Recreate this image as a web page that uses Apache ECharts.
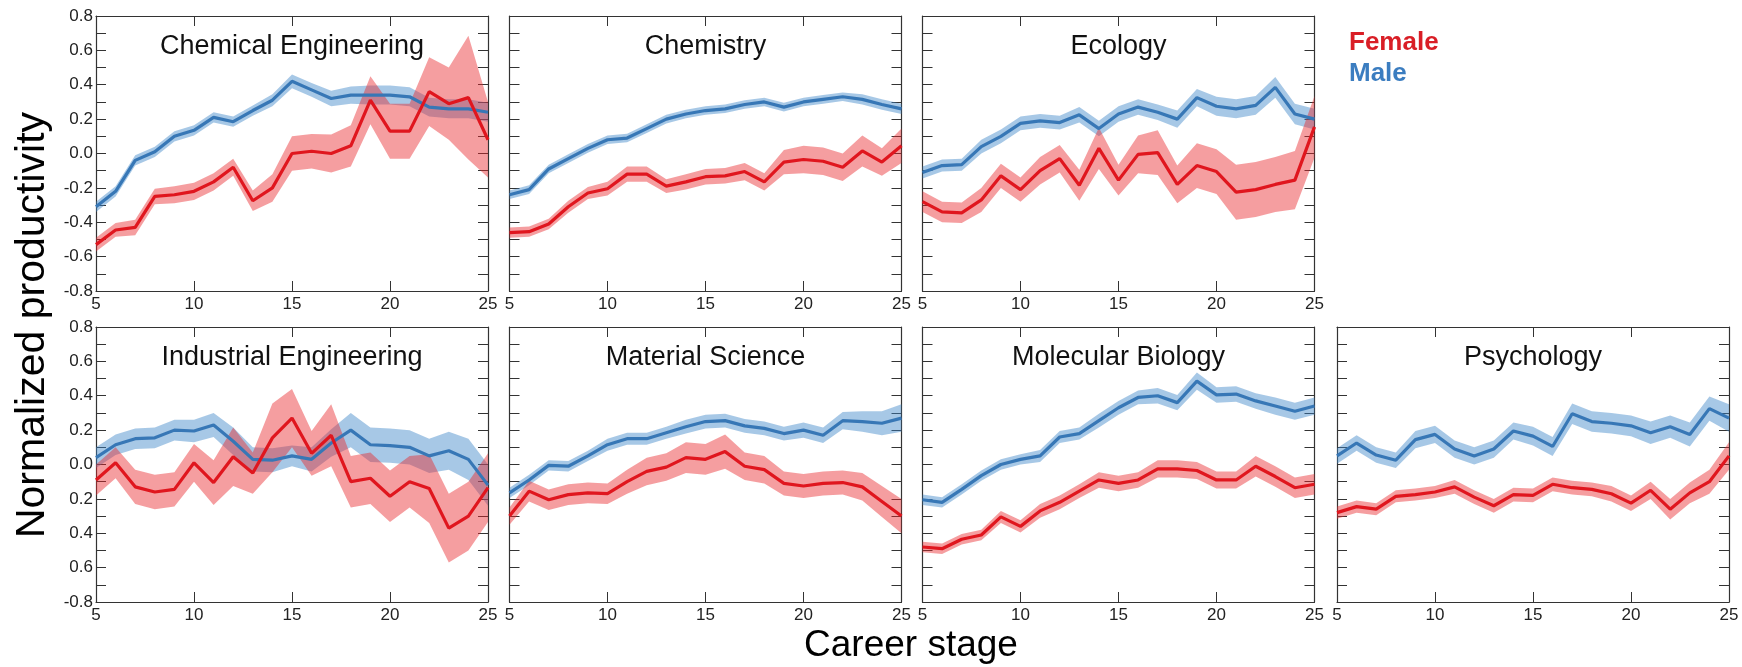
<!DOCTYPE html>
<html>
<head>
<meta charset="utf-8">
<script src="https://cdn.jsdelivr.net/npm/echarts@6/dist/echarts.min.js"></script>
<style>
html,body{margin:0;padding:0;background:#fff;}
#chart{width:1742px;height:667px;}
</style>
</head>
<body>
<div id="chart"></div>
<script>
// ---------- data ----------
const years = [5,6,7,8,9,10,11,12,13,14,15,16,17,18,19,20,21,22,23,24,25];
const disciplines = ['Chemical Engineering','Chemistry','Ecology','Industrial Engineering','Material Science','Molecular Biology','Psychology'];
const yTicks = [-0.8,-0.6,-0.4,-0.2,0.0,0.2,0.4,0.6,0.8];
const xTicks = [5,10,15,20,25];
const legendNames = ['Female','Male'];

const chemEngFemale    = [-0.53,-0.445,-0.43,-0.25,-0.24,-0.22,-0.165,-0.08,-0.275,-0.2,0.0,0.013,0.0,0.045,0.31,0.13,0.13,0.36,0.29,0.325,0.08];
const chemEngFemaleErr = [0.04,0.04,0.045,0.045,0.05,0.05,0.05,0.05,0.06,0.08,0.1,0.1,0.11,0.12,0.14,0.16,0.16,0.2,0.21,0.36,0.22];
const chemEngMale      = [-0.31,-0.22,-0.04,0.01,0.10,0.135,0.21,0.185,0.25,0.31,0.42,0.37,0.32,0.34,0.34,0.34,0.33,0.27,0.26,0.26,0.24];
const chemEngMaleErr   = [0.03,0.03,0.03,0.03,0.03,0.03,0.03,0.03,0.03,0.035,0.04,0.04,0.045,0.05,0.055,0.055,0.055,0.055,0.055,0.055,0.055];

const chemFemale    = [-0.46,-0.455,-0.41,-0.31,-0.23,-0.205,-0.12,-0.12,-0.19,-0.165,-0.135,-0.13,-0.105,-0.165,-0.05,-0.035,-0.045,-0.08,0.015,-0.05,0.045];
const chemFemaleErr = [0.03,0.03,0.03,0.035,0.035,0.04,0.045,0.045,0.04,0.045,0.045,0.045,0.05,0.05,0.07,0.08,0.08,0.08,0.09,0.08,0.1];
const chemMale      = [-0.24,-0.21,-0.09,-0.03,0.03,0.08,0.09,0.145,0.2,0.23,0.25,0.26,0.285,0.30,0.27,0.30,0.315,0.33,0.315,0.285,0.26];
const chemMaleErr   = [0.025,0.025,0.025,0.025,0.025,0.025,0.025,0.025,0.025,0.025,0.025,0.025,0.025,0.025,0.025,0.025,0.025,0.025,0.03,0.03,0.03];

const ecoFemale    = [-0.28,-0.34,-0.345,-0.27,-0.13,-0.21,-0.1,-0.03,-0.185,0.03,-0.155,-0.005,0.005,-0.18,-0.07,-0.105,-0.225,-0.21,-0.18,-0.155,0.155];
const ecoFemaleErr = [0.06,0.06,0.06,0.07,0.07,0.07,0.08,0.08,0.09,0.12,0.09,0.11,0.13,0.11,0.13,0.13,0.16,0.16,0.16,0.17,0.18];
const ecoMale      = [-0.11,-0.07,-0.065,0.04,0.10,0.175,0.19,0.18,0.225,0.145,0.23,0.27,0.24,0.20,0.325,0.275,0.26,0.28,0.385,0.23,0.20];
const ecoMaleErr   = [0.035,0.035,0.035,0.04,0.04,0.04,0.04,0.04,0.045,0.045,0.045,0.045,0.045,0.05,0.05,0.055,0.055,0.055,0.06,0.06,0.06];

const indFemale    = [-0.09,0.01,-0.13,-0.16,-0.145,0.01,-0.105,0.045,-0.05,0.155,0.27,0.065,0.17,-0.1,-0.08,-0.185,-0.1,-0.14,-0.37,-0.3,-0.135];
const indFemaleErr = [0.09,0.09,0.1,0.1,0.1,0.11,0.13,0.17,0.12,0.2,0.17,0.13,0.18,0.15,0.15,0.15,0.15,0.2,0.2,0.2,0.2];
const indMale      = [0.04,0.115,0.15,0.155,0.2,0.195,0.23,0.135,0.03,0.025,0.05,0.03,0.125,0.2,0.115,0.11,0.10,0.05,0.08,0.03,-0.12];
const indMaleErr   = [0.06,0.06,0.06,0.06,0.06,0.065,0.07,0.08,0.07,0.07,0.06,0.07,0.08,0.1,0.1,0.1,0.1,0.1,0.11,0.12,0.12];

const matFemale    = [-0.3,-0.155,-0.205,-0.175,-0.165,-0.17,-0.1,-0.04,-0.015,0.04,0.03,0.075,-0.01,-0.03,-0.11,-0.125,-0.11,-0.105,-0.13,-0.215,-0.3];
const matFemaleErr = [0.05,0.06,0.06,0.06,0.06,0.06,0.07,0.08,0.08,0.09,0.09,0.1,0.08,0.08,0.07,0.07,0.07,0.07,0.08,0.09,0.1];
const matMale      = [-0.165,-0.09,-0.005,-0.01,0.05,0.115,0.15,0.15,0.185,0.22,0.25,0.255,0.225,0.21,0.18,0.2,0.17,0.255,0.25,0.24,0.27];
const matMaleErr   = [0.03,0.03,0.03,0.03,0.03,0.035,0.035,0.035,0.035,0.04,0.04,0.04,0.04,0.04,0.04,0.045,0.045,0.05,0.06,0.07,0.08];

const molFemale    = [-0.48,-0.49,-0.435,-0.41,-0.305,-0.36,-0.27,-0.22,-0.155,-0.09,-0.11,-0.09,-0.025,-0.025,-0.035,-0.09,-0.09,-0.01,-0.07,-0.135,-0.115];
const molFemaleErr = [0.03,0.03,0.03,0.03,0.035,0.035,0.04,0.04,0.04,0.045,0.045,0.045,0.05,0.05,0.05,0.05,0.05,0.06,0.06,0.06,0.06];
const molMale      = [-0.205,-0.22,-0.145,-0.065,0.0,0.03,0.05,0.16,0.18,0.255,0.33,0.39,0.40,0.36,0.485,0.405,0.41,0.37,0.34,0.31,0.34];
const molMaleErr   = [0.03,0.03,0.03,0.03,0.03,0.03,0.035,0.035,0.035,0.04,0.04,0.04,0.045,0.045,0.05,0.045,0.045,0.045,0.05,0.05,0.05];

const psyFemale    = [-0.28,-0.245,-0.26,-0.185,-0.175,-0.16,-0.13,-0.19,-0.24,-0.175,-0.18,-0.115,-0.135,-0.145,-0.17,-0.225,-0.15,-0.26,-0.165,-0.1,0.05];
const psyFemaleErr = [0.035,0.035,0.035,0.035,0.035,0.035,0.04,0.04,0.04,0.04,0.04,0.04,0.04,0.04,0.045,0.045,0.05,0.06,0.06,0.07,0.08];
const psyMale      = [0.05,0.125,0.055,0.025,0.145,0.175,0.09,0.05,0.09,0.195,0.165,0.105,0.295,0.25,0.24,0.225,0.185,0.22,0.175,0.325,0.27];
const psyMaleErr   = [0.045,0.045,0.045,0.045,0.05,0.05,0.05,0.05,0.05,0.05,0.055,0.055,0.06,0.06,0.06,0.06,0.065,0.065,0.07,0.07,0.08];

// ---------- layout / style ----------
const FONT = '"Liberation Sans", Arial, Helvetica, sans-serif';
const RED = '#e0161e', RED_BAND = 'rgba(232,40,45,0.45)';
const BLUE = '#3777b6', BLUE_BAND = 'rgba(60,132,200,0.45)';
const AX = '#333';
const colLeft = [96, 509.5, 922.5, 1337];
const rowTop = [16, 327];
const GW = 392, GH = 275;

const panels = [
  {f: chemEngFemale, fe: chemEngFemaleErr, m: chemEngMale, me: chemEngMaleErr, row:0, col:0},
  {f: chemFemale, fe: chemFemaleErr, m: chemMale, me: chemMaleErr, row:0, col:1},
  {f: ecoFemale, fe: ecoFemaleErr, m: ecoMale, me: ecoMaleErr, row:0, col:2},
  {f: indFemale, fe: indFemaleErr, m: indMale, me: indMaleErr, row:1, col:0},
  {f: matFemale, fe: matFemaleErr, m: matMale, me: matMaleErr, row:1, col:1},
  {f: molFemale, fe: molFemaleErr, m: molMale, me: molMaleErr, row:1, col:2},
  {f: psyFemale, fe: psyFemaleErr, m: psyMale, me: psyMaleErr, row:1, col:3}
];

const grid = [], xAxis = [], yAxis = [], series = [], graphic = [];
const tick = {show:true, inside:true, length:10, lineStyle:{color:AX, width:1}};

// band polygon drawn through the axis scales (api.coord)
function bandRender(color) {
  return function (params, api) {
    if (params.dataIndexInside !== 0) return null;
    const n = params.dataInsideLength;
    const upper = [], lower = [];
    for (let k = 0; k < n; k++) {
      const x = api.value(0, k);
      upper.push(api.coord([x, api.value(2, k)]));
      lower.push(api.coord([x, api.value(1, k)]));
    }
    const pts = upper.concat(lower.reverse());
    return {type:'polygon', shape:{points: pts}, style:{fill: color}, silent:true};
  };
}

panels.forEach((p, i) => {
  grid.push({left: colLeft[p.col], top: rowTop[p.row], width: GW, height: GH, show:false});
  const xBase = {gridIndex:i, type:'value', min:xTicks[0], max:xTicks[xTicks.length-1], interval:xTicks[1]-xTicks[0],
    axisLine:{show:true, onZero:false, lineStyle:{color:AX, width:1.2}}, axisTick:tick, splitLine:{show:false}};
  xAxis.push(Object.assign({}, xBase, {position:'bottom',
    axisLabel:{show:true, margin:5, color:'#222', fontSize:17, fontFamily:FONT}}));
  xAxis.push(Object.assign({}, xBase, {position:'top', axisLabel:{show:false}}));
  const yBase = {gridIndex:i, type:'value', min:yTicks[0], max:yTicks[yTicks.length-1], interval:yTicks[1]-yTicks[0],
    axisLine:{show:true, onZero:false, lineStyle:{color:AX, width:1.2}}, axisTick:tick,
    minorTick:{show:true, splitNumber:2, length:10, lineStyle:{color:AX, width:1}},
    splitLine:{show:false}, minorSplitLine:{show:false}};
  const bottomRow = p.row === 1;
  yAxis.push(Object.assign({}, yBase, {position:'left',
    axisLabel:{show: p.col === 0, margin:3, color:'#222', fontSize:17, fontFamily:FONT,
      formatter: v => {
        const r = Math.round(v*10)/10;
        let s = r.toFixed(1);
        if (s === '-0.0') s = '0.0';
        if (bottomRow && r < 0 && r > -0.8) s = s.replace('-', '');
        return s;
      }}}));
  yAxis.push(Object.assign({}, yBase, {position:'right', axisLabel:{show:false}}));

  const xi = 2*i, yi = 2*i;
  const addBand = (mean, err, bandColor, name) => {
    series.push({type:'custom', name:name, xAxisIndex:xi, yAxisIndex:yi, silent:true, clip:true,
      data: years.map((x,k)=>[x, mean[k]-err[k], mean[k]+err[k]]),
      encode:{x:0, y:[1,2]}, renderItem: bandRender(bandColor), z:1});
  };
  const addLine = (mean, color, name) => {
    series.push({type:'line', name:name, xAxisIndex:xi, yAxisIndex:yi,
      data: years.map((x,k)=>[x, mean[k]]), symbol:'none', silent:true,
      lineStyle:{color:color, width:3.2}, z:2});
  };
  addBand(p.m, p.me, BLUE_BAND, legendNames[1]);
  addLine(p.m, BLUE, legendNames[1]);
  addBand(p.f, p.fe, RED_BAND, legendNames[0]);
  addLine(p.f, RED, legendNames[0]);

  graphic.push({type:'text', x: colLeft[p.col] + GW/2, y: rowTop[p.row] + 31,
    style:{text: disciplines[i], font:'27px ' + FONT, fill:'#111', textAlign:'center', textVerticalAlign:'middle'}});
});

graphic.push({type:'text', x:33, y:325, rotation:Math.PI/2,
  style:{text:'Normalized productivity', font:'41px ' + FONT, fill:'#000', textAlign:'center', textVerticalAlign:'middle'}});
graphic.push({type:'text', x:911, y:646,
  style:{text:'Career stage', font:'37px ' + FONT, fill:'#000', textAlign:'center', textVerticalAlign:'middle'}});
graphic.push({type:'text', x:1349, y:43,
  style:{text:legendNames[0], font:'bold 26px ' + FONT, fill:'#d91e26', textAlign:'left', textVerticalAlign:'middle'}});
graphic.push({type:'text', x:1349, y:74,
  style:{text:legendNames[1], font:'bold 26px ' + FONT, fill:'#3b7dc0', textAlign:'left', textVerticalAlign:'middle'}});

const chart = echarts.init(document.getElementById('chart'), null, {renderer:'canvas'});
chart.setOption({
  animation:false,
  backgroundColor:'#fff',
  grid, xAxis, yAxis, series, graphic
});
</script>
</body>
</html>
